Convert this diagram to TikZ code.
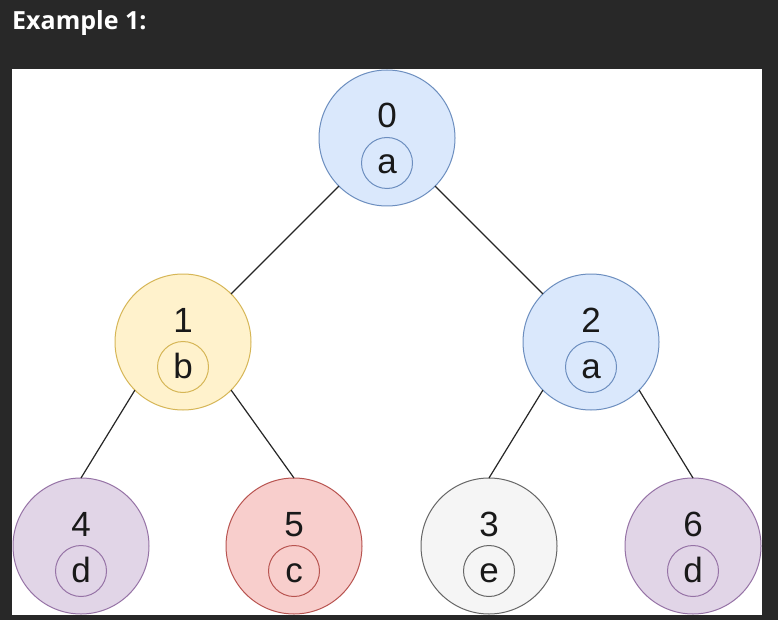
\documentclass[tikz,border=0pt]{standalone}
\usepackage{fontspec}
\setmainfont{Liberation Sans}
\newfontfamily\titlefont{Open Sans}
\definecolor{bgdark}{HTML}{282828}
\definecolor{bluefill}{HTML}{DAE8FC}\definecolor{bluedraw}{HTML}{6C8EBF}
\definecolor{yelfill}{HTML}{FFF2CC}\definecolor{yeldraw}{HTML}{D6B656}
\definecolor{purfill}{HTML}{E1D5E7}\definecolor{purdraw}{HTML}{9673A6}
\definecolor{redfill}{HTML}{F8CECC}\definecolor{reddraw}{HTML}{B85450}
\definecolor{grayfill}{HTML}{F5F5F5}\definecolor{graydraw}{HTML}{666666}
\tikzset{
  outercirc/.style={circle, minimum size=136pt, inner sep=0pt, outer sep=0pt, line width=1pt},
  innercirc/.style={circle, minimum size=51pt, inner sep=0pt, outer sep=0pt, line width=1pt},
  lbl/.style={anchor=base, inner sep=0pt, font=\fontsize{35}{40}\selectfont, text=black!90},
  edge/.style={draw=black!85, line width=1.2pt}
}
\newcommand{\treenode}[7]{%
  \node[outercirc, fill=#6, draw=#7] (#1) at (#2,#3) {};
  \node[lbl] (#1num) at ($(#1)+(0,-10)$) {#4};
  \node[innercirc, fill=#6, draw=#7] (#1in) at ($(#1)+(0,25)$) {};
  \node[lbl] (#1let) at ($(#1)+(0,36)$) {#5};
}
\usetikzlibrary{calc}
\begin{document}
\begin{tikzpicture}[x=1pt,y=-1pt]
\useasboundingbox (0,0) rectangle (778,620);
\fill[bgdark] (0,0) rectangle (778,620);
\node[anchor=base west, inner sep=0pt, text=white, font=\titlefont\bfseries\fontsize{25}{30}\selectfont] (title) at (12,29.5) {Example 1:};
\fill[white] (12,69) rectangle (762,615);
\begin{scope}
\clip (12,69) rectangle (762,615);
\treenode{n0}{387}{138}{0}{a}{bluefill}{bluedraw}
\treenode{n1}{183}{342}{1}{b}{yelfill}{yeldraw}
\treenode{n2}{591}{342}{2}{a}{bluefill}{bluedraw}
\treenode{n4}{81}{546}{4}{d}{purfill}{purdraw}
\treenode{n5}{294}{546}{5}{c}{redfill}{reddraw}
\treenode{n3}{489}{546}{3}{e}{grayfill}{graydraw}
\treenode{n6}{693}{546}{6}{d}{purfill}{purdraw}
\draw[edge] (n0.-135) -- (n1.45);
\draw[edge] (n0.-45) -- (n2.135);
\draw[edge] (n1.-135) -- (n4.north);
\draw[edge] (n1.-45) -- (n5.north);
\draw[edge] (n2.-135) -- (n3.north);
\draw[edge] (n2.-45) -- (n6.north);
\end{scope}
\end{tikzpicture}
\end{document}
